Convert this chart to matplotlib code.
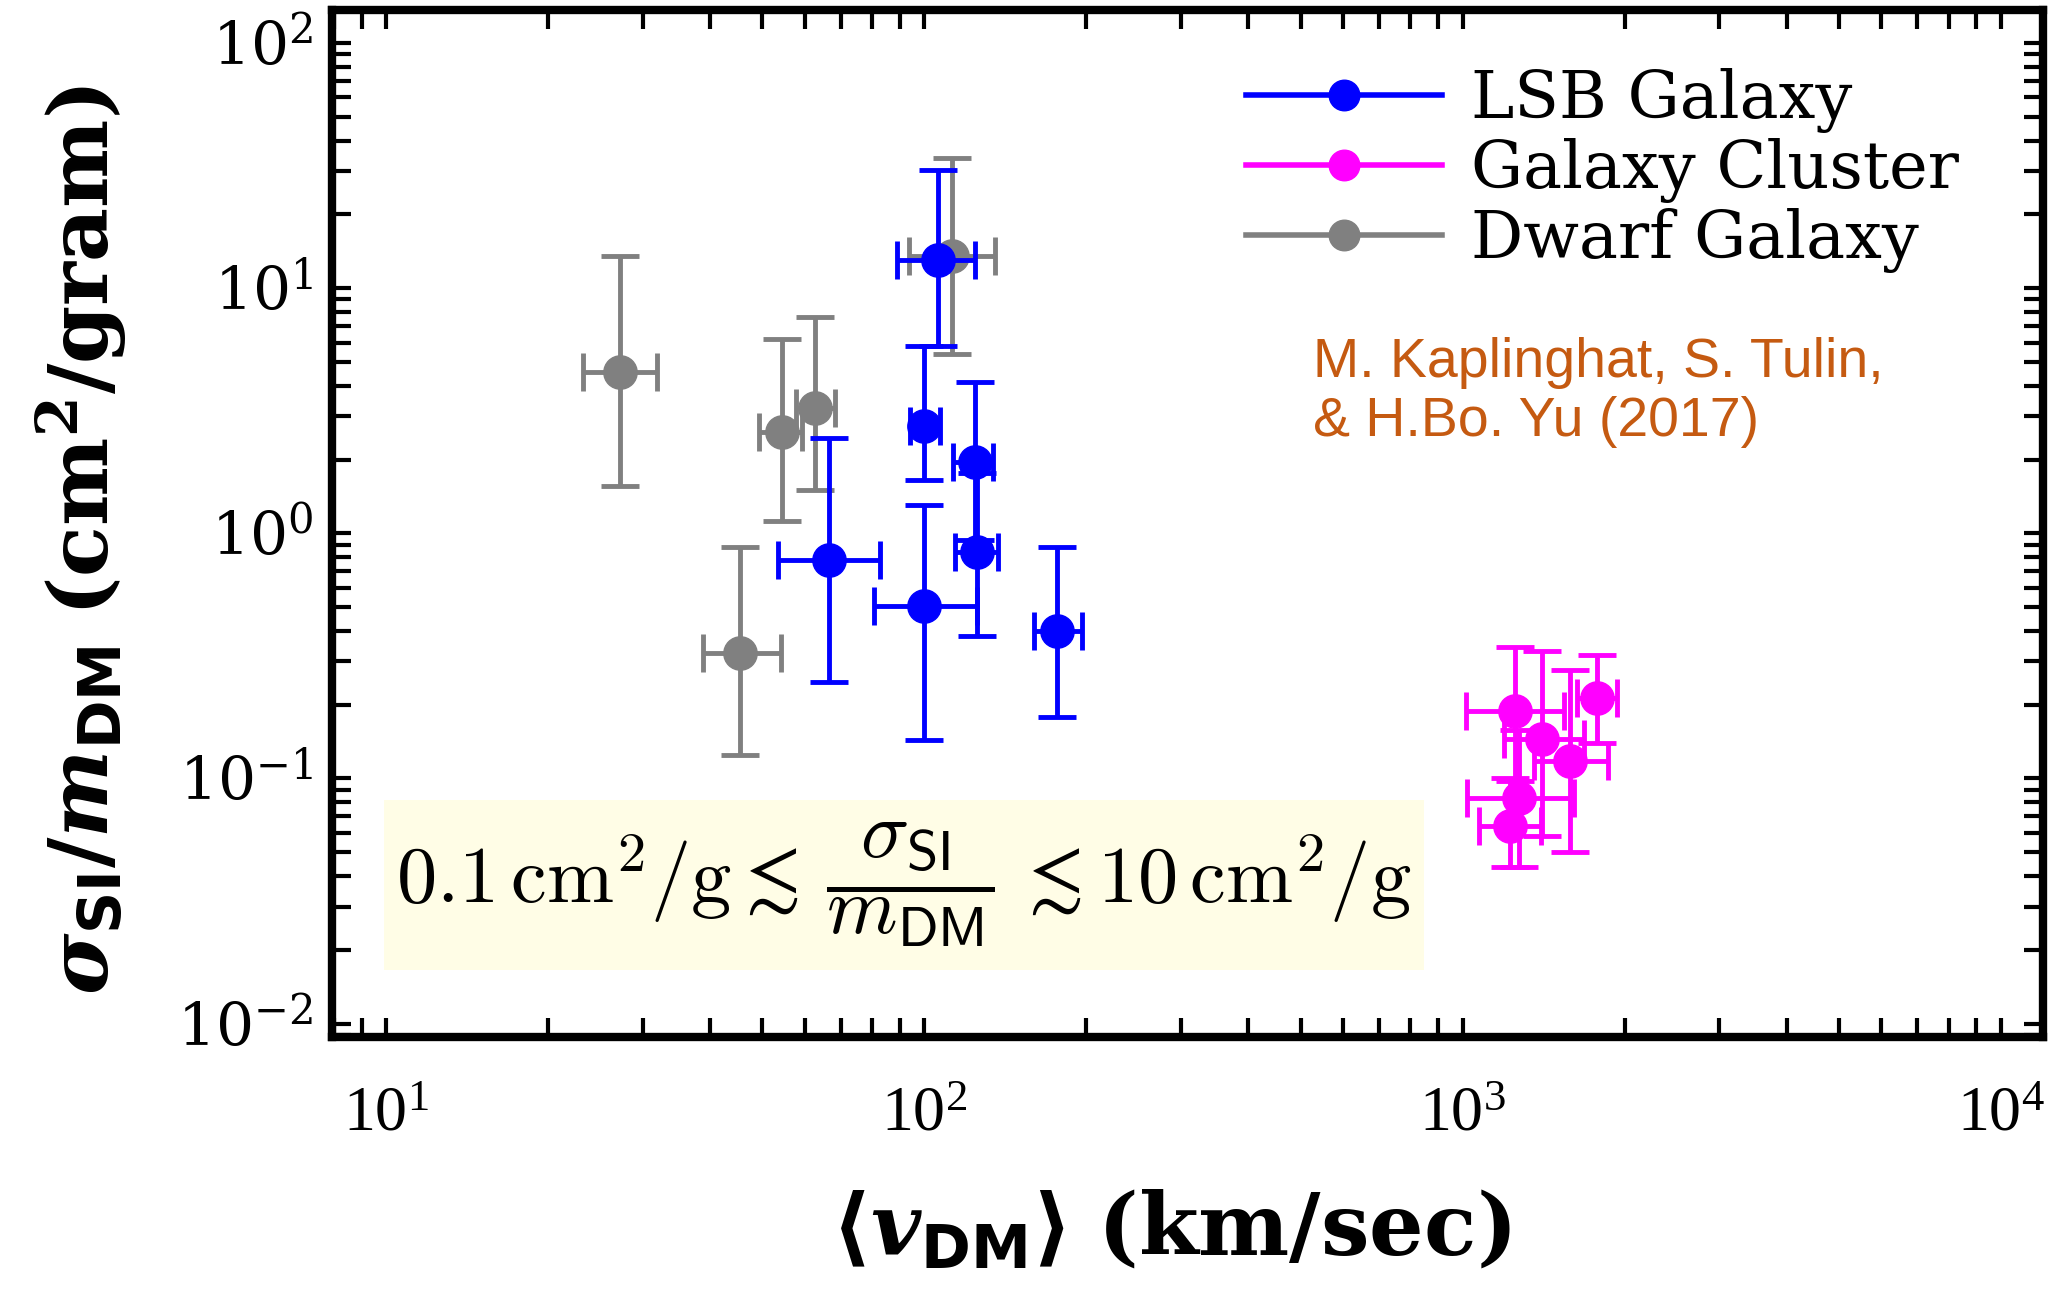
import numpy as np
import matplotlib
matplotlib.use('Agg')
import matplotlib.pyplot as plt
from matplotlib.lines import Line2D
from matplotlib.patches import Rectangle
from matplotlib.ticker import LogLocator, NullFormatter

# LSB galaxies: velocity (km/s) and sigma/m (cm^2/g), with error ranges
lsb_v = [106, 100, 124, 125, 66.5, 100, 176]
lsb_v_lo = [89, 94, 113, 114, 53.5, 80.5, 160]
lsb_v_hi = [124, 107, 134, 137, 82.6, 125, 196]
lsb_s = [13.0, 2.73, 1.95, 0.836, 0.776, 0.504, 0.40]
lsb_s_lo = [5.8, 1.65, 0.94, 0.38, 0.247, 0.143, 0.178]
lsb_s_hi = [30.3, 5.8, 4.15, 1.77, 2.44, 1.30, 0.88]

# galaxy clusters
cl_v = [1249, 1406, 1775, 1582, 1274, 1224]
cl_v_lo = [1013, 1194, 1633, 1355, 1020, 1071]
cl_v_hi = [1543, 1682, 1937, 1866, 1611, 1396]
cl_s = [0.188, 0.145, 0.213, 0.118, 0.083, 0.064]
cl_s_lo = [0.098, 0.058, 0.139, 0.050, 0.0435, 0.0435]
cl_s_hi = [0.343, 0.33, 0.32, 0.276, 0.158, 0.100]

# dwarf galaxies
dw_v = [27.2, 45.4, 54.3, 62.5, 112.5]
dw_v_lo = [23.2, 38.7, 49.2, 57.7, 93.8]
dw_v_hi = [31.9, 54.2, 59.2, 68.1, 135]
dw_s = [4.57, 0.324, 2.60, 3.24, 13.5]
dw_s_lo = [1.56, 0.124, 1.12, 1.50, 5.38]
dw_s_hi = [13.5, 0.879, 6.18, 7.66, 33.9]

labels = ['LSB Galaxy', 'Galaxy Cluster', 'Dwarf Galaxy']
colors = ['#0000ff', '#ff00ff', '#808080']

# extent of the shaded box behind the inequality
box_v = [9.9, 849]
box_s = [0.0166, 0.082]

plt.rcParams['font.family'] = ['Liberation Serif', 'DejaVu Serif']
plt.rcParams['mathtext.fontset'] = 'custom'
plt.rcParams['mathtext.rm'] = 'DejaVu Serif:bold'
plt.rcParams['mathtext.bf'] = 'DejaVu Serif:bold'
plt.rcParams['mathtext.it'] = 'DejaVu Serif:italic:bold'
plt.rcParams['mathtext.sf'] = 'DejaVu Sans:bold'


def err(c, lo, hi):
    c = np.asarray(c, float)
    return [c - np.asarray(lo, float), np.asarray(hi, float) - c]


fig = plt.figure(figsize=(20.64, 12.92), dpi=100)
ax = fig.add_axes([0.161, 0.197, 0.829, 0.795])
ax.set_xscale('log')
ax.set_yscale('log')
ax.set_xlim(7.94, 12000)
ax.set_ylim(0.00877, 136)

ax.add_patch(Rectangle((box_v[0], box_s[0]), box_v[1] - box_v[0], box_s[1] - box_s[0],
                       facecolor='#fffde6', edgecolor='none', zorder=0))

style = dict(fmt='o', ms=24, elinewidth=3.5, capsize=14, capthick=3.5)
ax.errorbar(dw_v, dw_s, xerr=err(dw_v, dw_v_lo, dw_v_hi),
            yerr=err(dw_s, dw_s_lo, dw_s_hi), color=colors[2], zorder=2, **style)
ax.errorbar(lsb_v, lsb_s, xerr=err(lsb_v, lsb_v_lo, lsb_v_hi),
            yerr=err(lsb_s, lsb_s_lo, lsb_s_hi), color=colors[0], zorder=3, **style)
ax.errorbar(cl_v, cl_s, xerr=err(cl_v, cl_v_lo, cl_v_hi),
            yerr=err(cl_s, cl_s_lo, cl_s_hi), color=colors[1], zorder=3, **style)

handles = [Line2D([], [], color=c, lw=4, marker='o', ms=22) for c in colors]
ax.legend(handles, labels, loc='upper left', bbox_to_anchor=(0.534, 0.944),
          frameon=False, handlelength=3.0, handletextpad=0.44, labelspacing=0.08,
          borderpad=0, borderaxespad=0,
          prop={'family': 'DejaVu Serif', 'size': 47})

ax.text(0.573, 0.682, 'M. Kaplinghat, S. Tulin,\n& H.Bo. Yu (2017)',
        transform=ax.transAxes, color='#c55a11', fontsize=40,
        family='Liberation Sans', va='top', ha='left', linespacing=1.18)

ax.text(np.sqrt(box_v[0] * box_v[1]), np.sqrt(box_s[0] * box_s[1]),
        r'$0.1\,\mathrm{cm^2/g}\lesssim\,\dfrac{\sigma_{\mathsf{SI}}}{m_{\mathsf{DM}}}\,'
        r'\lesssim10\,\mathrm{cm^2/g}$',
        ha='center', va='center', fontsize=58, math_fontfamily='cm', zorder=1)

ax.set_xlabel(r'$\langle v_{\mathsf{DM}}\rangle\;(\mathrm{km/sec})$', fontsize=62)
ax.set_ylabel(r'$\sigma_{\mathsf{SI}}/m_{\mathsf{DM}}\;(\mathrm{cm^2/gram})$', fontsize=60)
ax.xaxis.set_label_coords(0.49, -0.149)
ax.yaxis.set_label_coords(-0.119, 0.484)

ax.xaxis.set_major_locator(LogLocator(base=10, numticks=20))
ax.xaxis.set_minor_locator(LogLocator(base=10, subs=np.arange(2, 10), numticks=100))
ax.yaxis.set_major_locator(LogLocator(base=10, numticks=20))
ax.yaxis.set_minor_locator(LogLocator(base=10, subs=np.arange(2, 10), numticks=100))
ax.xaxis.set_minor_formatter(NullFormatter())
ax.yaxis.set_minor_formatter(NullFormatter())

ax.tick_params(which='both', direction='in', top=True, right=True, width=3, length=14)
ax.tick_params(axis='x', which='major', labelsize=46, pad=35,
               labelfontfamily='Liberation Serif')
ax.tick_params(axis='y', which='major', labelsize=43, pad=14,
               labelfontfamily='DejaVu Serif')
for s in ax.spines.values():
    s.set_linewidth(6)

fig.savefig('out.png', dpi=100)
